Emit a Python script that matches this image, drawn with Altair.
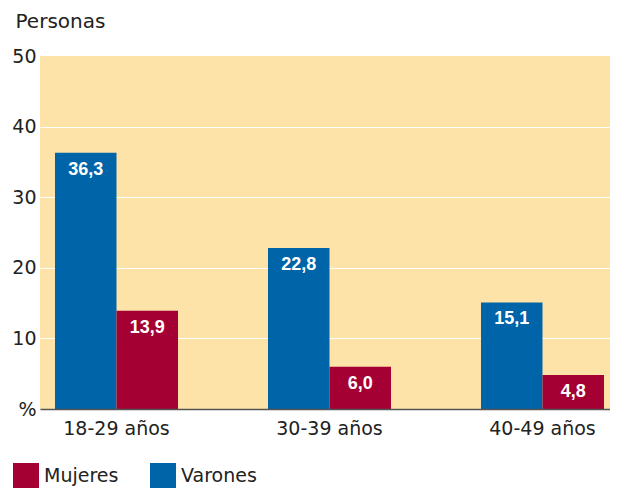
import altair as alt
import pandas as pd

groups = ["18-29 años", "30-39 años", "40-49 años"]
varones = [36.3, 22.8, 15.1]
mujeres = [13.9, 6.0, 4.8]
series = ["Mujeres", "Varones"]
colors = ["#a50034", "#0064a8"]
y_ticks = [0, 10, 20, 30, 40, 50]

rows = []
for g, v, m in zip(groups, varones, mujeres):
    rows.append({"grupo": g, "sexo": "Varones", "valor": v})
    rows.append({"grupo": g, "sexo": "Mujeres", "valor": m})
df = pd.DataFrame(rows)
df["etiqueta"] = df["valor"].map(lambda v: f"{v:.1f}".replace(".", ","))

FONT = "DejaVu Sans"

x = alt.X("grupo:N", sort=groups, title=None,
          scale=alt.Scale(paddingInner=0.4225, paddingOuter=0.0493, align=0.714),
          axis=alt.Axis(labelAngle=0, labelFont=FONT, labelFontSize=19, labelColor="#222",
                        labelPadding=10, ticks=False, domainColor="#555", domainWidth=1.5,
                        zindex=1))
xoff = alt.XOffset("sexo:N", scale=alt.Scale(domain=["Varones", "Mujeres"],
                                             paddingInner=0, paddingOuter=0))
y = alt.Y("valor:Q", scale=alt.Scale(domain=[0, 50], nice=False),
          axis=alt.Axis(values=y_ticks, title="Personas", titleAngle=0, titleX=-25, titleY=-29,
                        titleAlign="left", titleBaseline="alphabetic", titleFont=FONT,
                        titleFontSize=20, titleFontWeight="normal", titleColor="#222",
                        labelFont=FONT, labelFontSize=19, labelColor="#222", labelPadding=4,
                        labelExpr="datum.value == 0 ? '%' : datum.label",
                        ticks=False, domain=False, gridColor="white", gridWidth=1,
                        gridOpacity={"condition": {"test": "datum.value == 50 || datum.value == 0",
                                                   "value": 0}, "value": 1}))
color = alt.Color("sexo:N", scale=alt.Scale(domain=series, range=colors),
                  legend=alt.Legend(title=None, orient="none", legendX=-27, legendY=407,
                                    direction="horizontal", symbolType="square",
                                    symbolSize=676, symbolStrokeWidth=0, symbolOpacity=1,
                                    labelFont=FONT, labelFontSize=19, labelColor="#222",
                                    labelOffset=5, columnPadding=31, padding=0))

bars = alt.Chart(df).mark_bar(opacity=1).encode(x=x, xOffset=xoff, y=y, color=color)
labels = alt.Chart(df).mark_text(color="white", font="Liberation Sans", fontSize=18,
                                 fontWeight="bold", baseline="middle", dy=17).encode(
    x=alt.X("grupo:N", sort=groups), xOffset=alt.XOffset("sexo:N"), y="valor:Q",
    text="etiqueta:N")

chart = alt.layer(bars, labels).properties(
    width=570, height=353,
    autosize=alt.AutoSizeParams(type="none"),
    padding={"left": 32, "top": 48, "right": 0, "bottom": 79},
    background="white",
).configure_view(fill="#fde3a7", stroke=None)

chart.save("out.html", embed_options={"renderer": "svg", "actions": False})
